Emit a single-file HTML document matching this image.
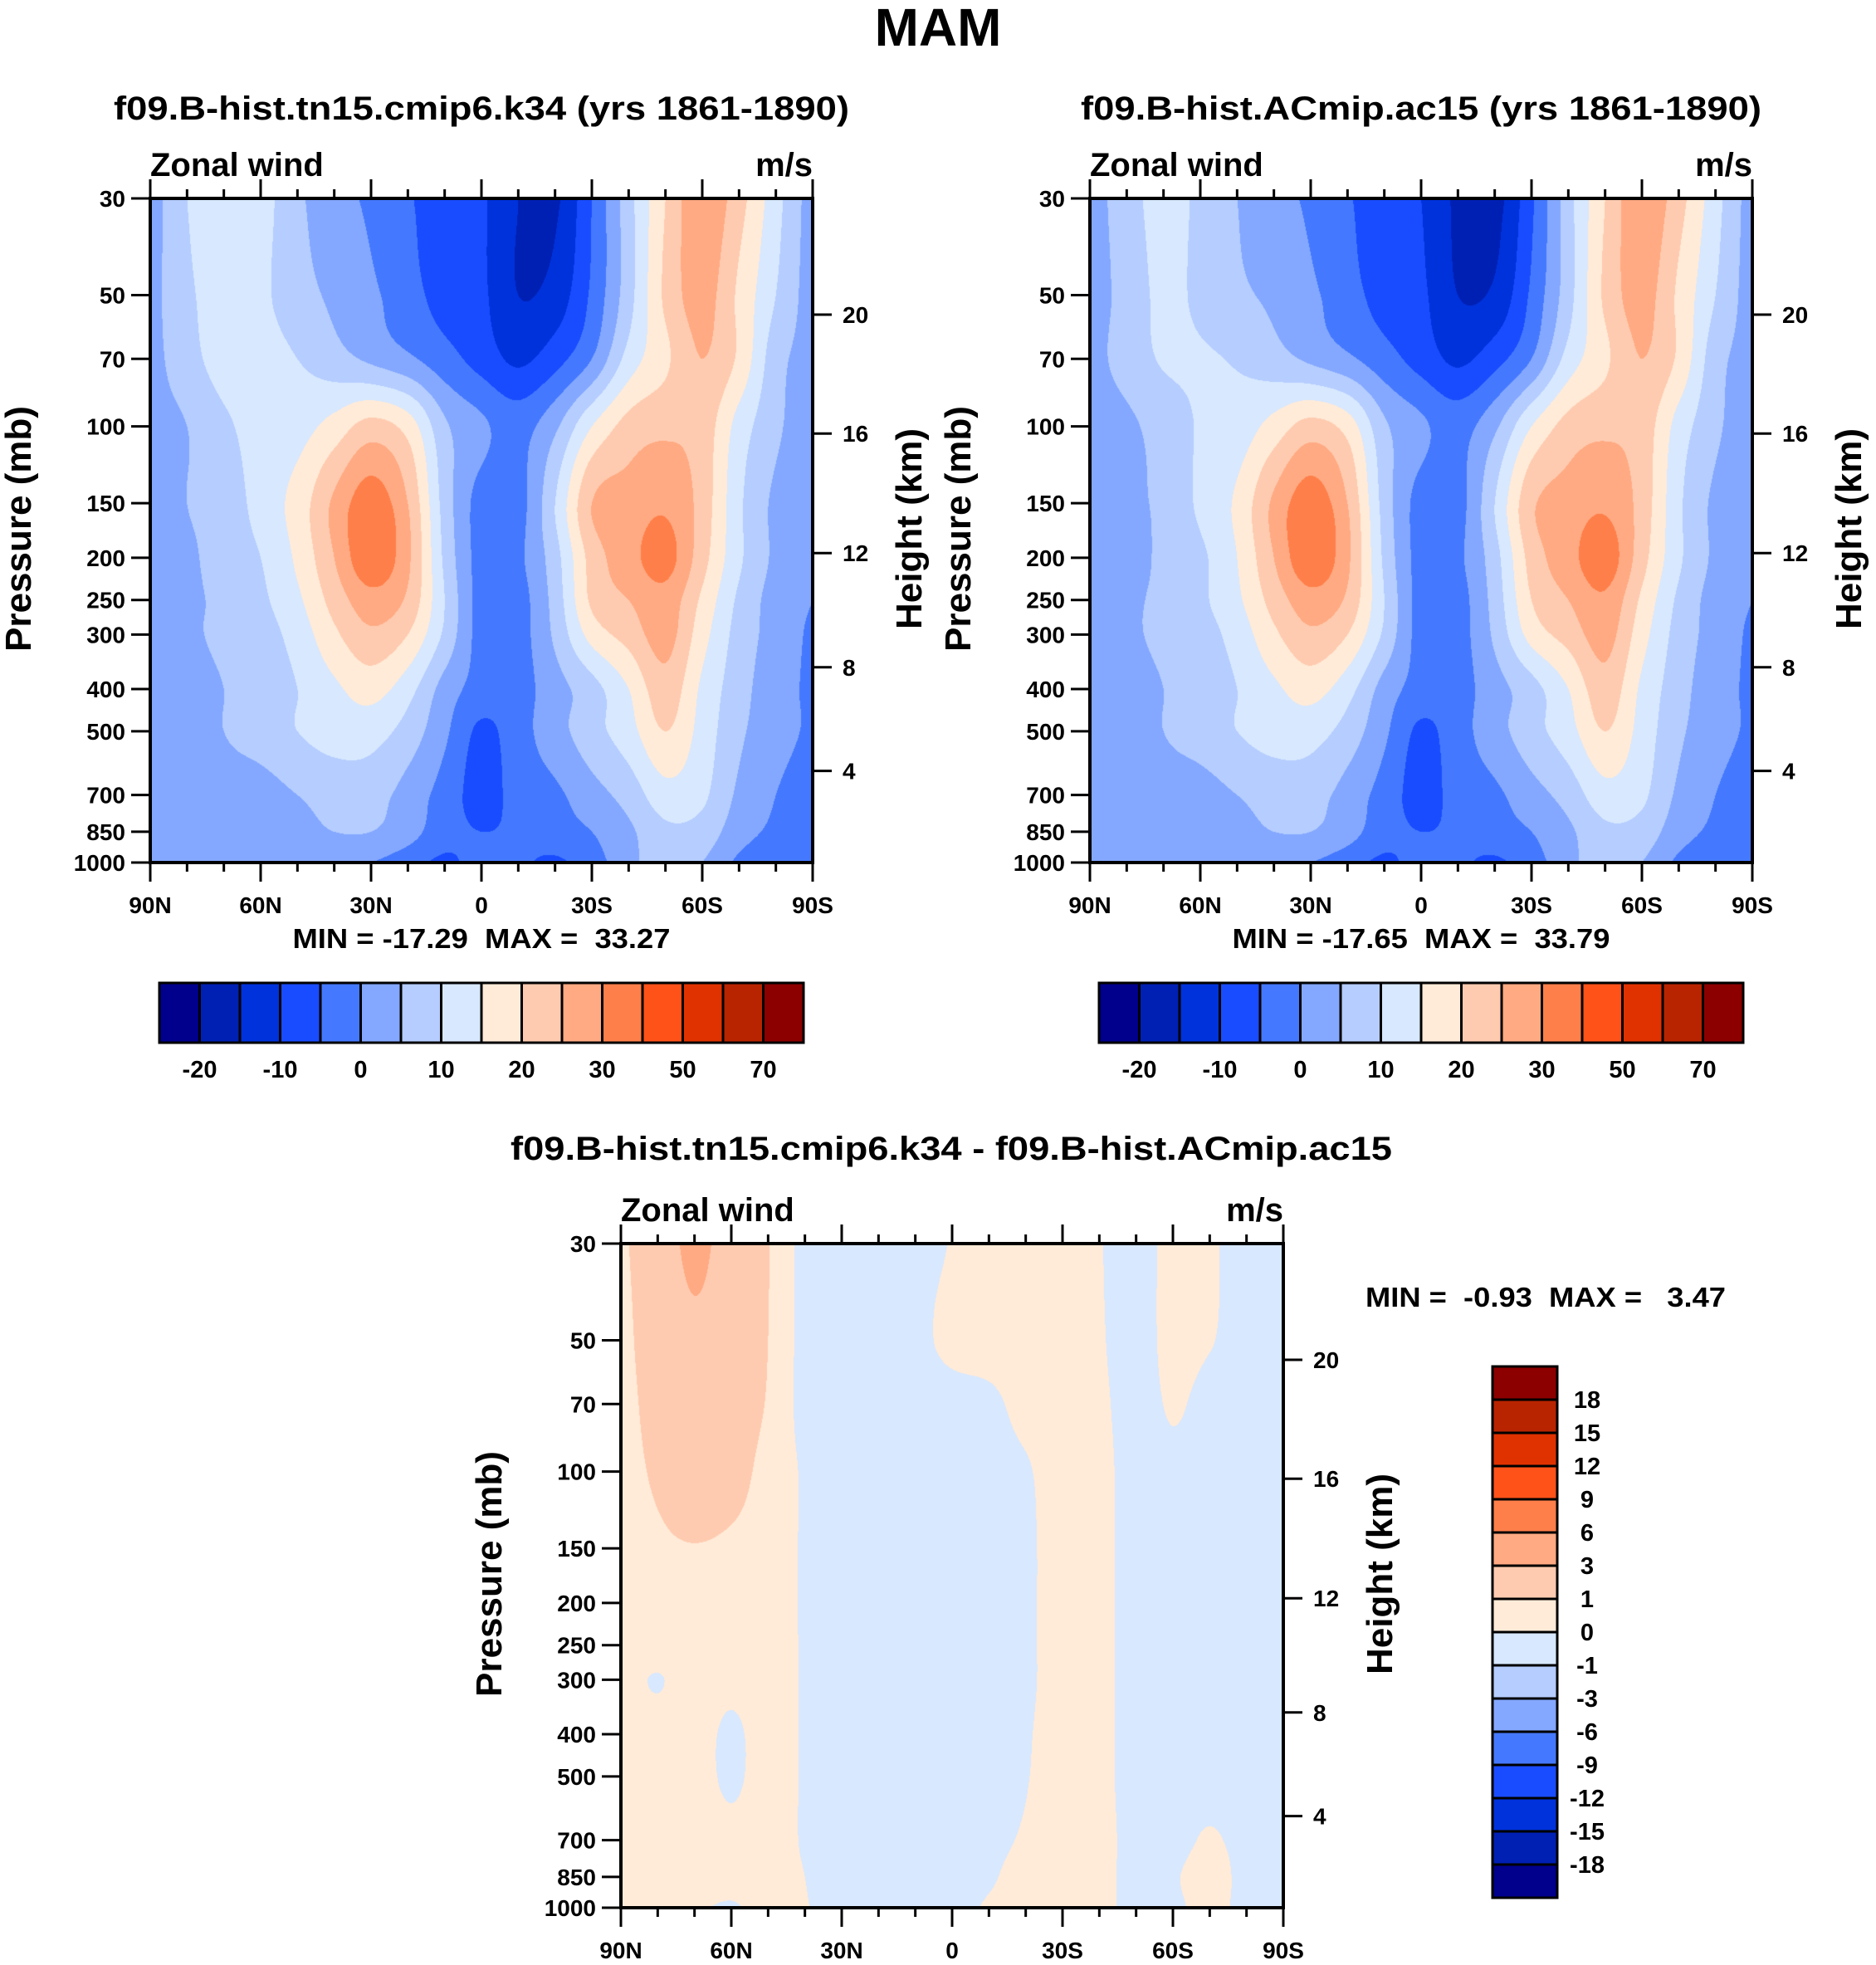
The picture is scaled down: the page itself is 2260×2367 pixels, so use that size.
<!DOCTYPE html>
<html><head><meta charset="utf-8">
<style>
html,body{margin:0;padding:0;background:#fff;}
#root{position:relative;width:2260px;height:2367px;overflow:hidden;background:#fff;}
canvas{position:absolute;}
svg{position:absolute;left:0;top:0;}
text{font-family:"Liberation Sans",sans-serif;font-weight:bold;fill:#000;white-space:pre;}
</style></head>
<body>
<div id="root">
<canvas id="c1" width="798" height="800" style="left:181px;top:239px"></canvas>
<canvas id="c2" width="798" height="800" style="left:1313px;top:239px"></canvas>
<canvas id="c3" width="798" height="800" style="left:748px;top:1498px"></canvas>
<svg id="ov" width="2260" height="2367"></svg>
</div>
<script>
// ---- data ----
const latitudes = [90,80,70,60,50,40,30,20,10,0,-10,-20,-30,-40,-50,-60,-70,-80,-90];
const pressureLevels = [30,50,70,100,150,200,250,300,400,500,700,850,1000];
const windLevels = [-20,-15,-10,-5,0,5,10,15,20,25,30,40,50,60,70];
const windLabels = ["-20","-10","0","10","20","30","50","70"];
const diffLevels = [-18,-15,-12,-9,-6,-3,-1,0,1,3,6,9,12,15,18];
const diffLabels = ["18","15","12","9","6","3","1","0","-1","-3","-6","-9","-12","-15","-18"];
const latTickLabels = ["90N","60N","30N","0","30S","60S","90S"];
const heightTickLabels = ["20","16","12","8","4"];
const palette = ["#00008c","#0020b4","#0032dc","#1a4cff","#4479ff","#84a8ff","#b5cdff","#d7e8ff","#ffebd8","#ffcbb0","#ffaa82","#ff7f4a","#ff5219","#e03200","#b82400","#8c0000"];

const panel1Wind = [
 [2,10,13,12,6,2,-1,-4.5,-7.5,-9.3,-15,-16,-5,8,20,29,22,12,2],
 [3,9,12,11,7,4,1,-3,-7,-9,-15,-13,-4,8,21,27,19,10,2],
 [3,8,12,12,10,7,4,1,-3,-7,-11,-7,0,12,19,25,19,7,3],
 [3,5,9,12,13,17,22,18,6,1,-2,4,15,22,24,23,13,6,2],
 [2,5,7,12,17,26,33,25,8,-2,-2,10,25,27,29,23,11,4,2],
 [1,4,7,10,16,25,34,26,9,-2,-1,8,22,28,32,22,11,4,1],
 [1,4,6,9,14,22,28,24,10,-2,-2,7,21,25,28,19,9,3,0],
 [1,4,6,8,12,19,24,20,9,-2,-2,6,17,22,27,17,8,3,-1],
 [1,3,5,7,10,14,17,12,3,-2,-2,3,8,15,23,14,7,2,-1],
 [1,3,5,7,10,12,12,8,1,-6,-2,3,8,13,20,13,6,2,-1],
 [2,2,3,3,5,7,7,3,-2,-7,-3,-1,3,7,13,11,4,0,-3],
 [2,2,2,2,3,5,5,2,-3,-5,-4,-2,0,4,9,8,2,-1,-3],
 [1,1,1,1,1,1,0,-3,-6,-3,-4,-6,-2,3,9,5,-1,-3,-4]
];
const panel2Wind = [
 [2,8,11.5,9,5,2,-1,-4.5,-8,-10,-16,-17,-6,8,20,29,22,12,2],
 [2,7,11,9,6,4,1,-3,-7,-9,-15,-14,-4,8,21,27,19,10,2],
 [3,7,10.5,10.5,9.5,7,4,1,-3,-7,-11,-7,0,12,19,25,19,7,3],
 [2,4,7,10.5,12,17,22,18,6,1,-2,4,15,22,24,23,13,6,2],
 [2,4,6,11,16,26,33,25,8,-2,-2,10,24,27,29,23,11,4,2],
 [1,3,6,9,15,25,34,26,9,-2,-1,8,22,28,33,22,11,4,1],
 [1,4,6,9,14,22,28,24,10,-2,-2,7,20,25,29,19,9,3,0],
 [1,4,6,8,12,19,24,20,9,-2,-2,6,17,22,27,17,8,3,-1],
 [1,3,5,7,10,14,17,12,3,-2,-2,3,8,15,23,14,7,2,-1],
 [1,3,5,7,10,12,12,8,1,-6,-2,3,8,13,20,13,6,2,-1],
 [2,2,3,3,5,7,7,3,-2,-7,-3,-1,3,7,13,11,4,0,-3],
 [1,2,2,2,3,5,5,2,-3,-5,-4,-2,0,4,9,8,2,-1,-3],
 [0,1,1,1,1,1,0,-3,-6,-3,-4,-6,-2,3,9,5,-1,-3,-4]
];
const diffWind = [
 [0.8,1.8,3.5,2.0,1.05,-0.3,-0.4,-0.4,-0.3,0.05,0.5,0.5,0.5,0.05,-0.4,0.3,0.1,-0.3,-0.3],
 [0.6,1.7,2.6,2.0,1.0,-0.3,-0.4,-0.4,-0.2,0.2,0.4,0.5,0.5,0.1,-0.4,0.3,0.05,-0.3,-0.3],
 [0.5,1.5,2.2,1.8,0.9,-0.3,-0.4,-0.4,-0.4,-0.3,-0.2,0.3,0.5,0.2,-0.4,0.1,-0.3,-0.4,-0.4],
 [0.5,1.2,1.8,1.5,0.6,-0.1,-0.4,-0.4,-0.4,-0.4,-0.3,-0.1,0.5,0.3,-0.4,-0.2,-0.3,-0.4,-0.4],
 [0.4,0.8,0.95,0.8,0.5,-0.1,-0.4,-0.4,-0.4,-0.4,-0.3,-0.2,0.5,0.3,-0.4,-0.3,-0.3,-0.4,-0.4],
 [0.4,0.6,0.6,0.6,0.5,-0.1,-0.4,-0.4,-0.4,-0.4,-0.3,-0.2,0.5,0.3,-0.4,-0.3,-0.3,-0.4,-0.4],
 [0.4,0.5,0.6,0.5,0.5,-0.1,-0.4,-0.4,-0.4,-0.4,-0.3,-0.2,0.5,0.3,-0.4,-0.3,-0.3,-0.4,-0.4],
 [0.4,-0.05,0.5,0.3,0.5,-0.1,-0.4,-0.4,-0.4,-0.4,-0.3,-0.2,0.5,0.3,-0.4,-0.3,-0.3,-0.4,-0.4],
 [0.4,0.4,0.5,-0.2,0.5,-0.1,-0.4,-0.4,-0.4,-0.4,-0.3,-0.1,0.5,0.3,-0.4,-0.3,-0.3,-0.4,-0.4],
 [0.4,0.4,0.5,-0.2,0.5,-0.1,-0.4,-0.4,-0.4,-0.4,-0.3,-0.05,0.5,0.3,-0.4,-0.3,-0.3,-0.4,-0.4],
 [0.4,0.4,0.5,0.3,0.5,-0.1,-0.4,-0.4,-0.4,-0.4,-0.2,0.1,0.5,0.3,-0.3,-0.3,0.1,-0.3,-0.4],
 [0.4,0.4,0.5,0.3,0.5,0.0,-0.4,-0.4,-0.4,-0.4,-0.1,0.3,0.5,0.3,-0.3,-0.1,0.4,-0.3,-0.4],
 [0.3,0.2,0.1,-0.1,0.3,0.05,-0.4,-0.4,-0.4,-0.3,0.1,0.3,0.5,0.3,-0.3,-0.2,0.3,-0.3,-0.4]
];

// ---- axes ----
const W = 798, H = 800;
const LP0 = Math.log10(30), LP1 = Math.log10(1000);
function yOfP(p){ return (Math.log10(p)-LP0)/(LP1-LP0)*H; }
function xOfLat(lat){ return (90-lat)/180*W; }
const logP = pressureLevels.map(p=>Math.log10(p));

function cubicWeights(coords, c){
  const n = coords.length;
  let j = 0; while(j < n-2 && c > coords[j+1]) j++;
  let t = (c-coords[j])/(coords[j+1]-coords[j]); t = Math.max(0,Math.min(1,t));
  const i0 = Math.max(0,j-1), i1 = j, i2 = j+1, i3 = Math.min(n-1,j+2);
  const seg = coords[i2]-coords[i1];
  const a = seg/(coords[i2]-coords[i0]);
  const b = seg/(coords[i3]-coords[i1]);
  const t2=t*t, t3=t2*t;
  const h00=2*t3-3*t2+1, h10=t3-2*t2+t, h01=-2*t3+3*t2, h11=t3-t2;
  return {idx:[i0,i1,i2,i3], w:[-h10*a, h00-h11*b, h10*a+h01, h11*b]};
}
const latCoord = latitudes.map(l=>90-l);
function hexRGB(h){ return [parseInt(h.slice(1,3),16),parseInt(h.slice(3,5),16),parseInt(h.slice(5,7),16)]; }
const palRGB = palette.map(hexRGB);
function drawField(canvasId, data, levels){
  const cv = document.getElementById(canvasId), ctx = cv.getContext('2d');
  const img = ctx.createImageData(W,H);
  const colW = [];
  for(let px=0; px<W; px++) colW.push(cubicWeights(latCoord, (px+0.5)/W*180));
  for(let py=0; py<H; py++){
    const rw = cubicWeights(logP, LP0 + (py+0.5)/H*(LP1-LP0));
    const rowVals = new Float64Array(latitudes.length);
    for(let i=0;i<latitudes.length;i++){
      let s=0; for(let k=0;k<4;k++) s += rw.w[k]*data[rw.idx[k]][i];
      rowVals[i]=s;
    }
    for(let px=0; px<W; px++){
      const cw = colW[px];
      let v=0; for(let k=0;k<4;k++) v += cw.w[k]*rowVals[cw.idx[k]];
      let c=0; while(c<levels.length && v>=levels[c]) c++;
      const col = palRGB[c], o = (py*W+px)*4;
      img.data[o]=col[0]; img.data[o+1]=col[1]; img.data[o+2]=col[2]; img.data[o+3]=255;
    }
  }
  ctx.putImageData(img,0,0);
}
drawField('c1', panel1Wind, windLevels);
drawField('c2', panel2Wind, windLevels);
drawField('c3', diffWind, diffLevels);

// ---- svg overlay ----
const NS = "http://www.w3.org/2000/svg";
const svg = document.getElementById('ov');
function mk(tag, attrs, parent){
  const e = document.createElementNS(NS, tag);
  for(const k in attrs) e.setAttribute(k, attrs[k]);
  (parent||svg).appendChild(e); return e;
}
function txt(s, x, y, size, anchor, parent, extra){
  const t = mk('text', Object.assign({x:x, y:y, 'font-size':size, 'text-anchor':anchor||'middle'}, extra||{}), parent);
  t.textContent = s; return t;
}
const heightFrac = [0.175,0.354,0.534,0.706,0.862];

function drawAxes(X0, Y0, name){
  const g = mk('g', {});
  
  
  for(let lat=90; lat>=-90; lat-=10){
    const x = X0 + xOfLat(lat), major = (lat%30===0);
    const len = major?23:11;
    mk('line',{x1:x,y1:Y0,x2:x,y2:Y0-len,stroke:'#000','stroke-width':3},g);
    mk('line',{x1:x,y1:Y0+H,x2:x,y2:Y0+H+len,stroke:'#000','stroke-width':3},g);
  }
  latTickLabels.forEach((s,i)=>{
    const t = txt(s, X0 + xOfLat(90-30*i), Y0+H+61, 28, 'middle', g);
    
    
  });
  pressureLevels.forEach(p=>{
    const y = Y0 + yOfP(p);
    mk('line',{x1:X0,y1:y,x2:X0-23,y2:y,stroke:'#000','stroke-width':3},g);
    const t = txt(String(p), X0-30, y+10, 28, 'end', g);
    
    
  });
  heightTickLabels.forEach((s,i)=>{
    const y = Y0 + heightFrac[i]*H;
    mk('line',{x1:X0+W,y1:y,x2:X0+W+23,y2:y,stroke:'#000','stroke-width':3},g);
    const t = txt(s, X0+W+36, y+10, 28, 'start', g);
    
    
  });
  mk('rect',{x:X0,y:Y0,width:W,height:H,fill:'none',stroke:'#000','stroke-width':4},g);
  const zw = txt('Zonal wind', X0, Y0-27, 40, 'start', g);
  
  
  const un = txt('m/s', X0+W, Y0-27, 40, 'end', g);
  
  
  const pl = txt('Pressure (mb)', 0, 0, 44, 'middle', g, {transform:`translate(${X0-144},${Y0+H/2-2}) rotate(-90)`});
  
  
  const hl = txt('Height (km)', 0, 0, 44, 'middle', g, {transform:`translate(${X0+W+131},${Y0+H/2-2}) rotate(-90)`});
  
  
}
drawAxes(181,239,'panel1');
drawAxes(1313,239,'panel2');
drawAxes(748,1498,'diff');

function hColorbar(X, Y, name){
  const g = mk('g',{});
  
  
  const sw = 48.5;
  palette.forEach((c,i)=>{
    const r = mk('rect',{x:X+i*sw,y:Y,width:sw,height:72,fill:c,stroke:'#000','stroke-width':3},g);
    
    
  });
  windLabels.forEach((s,i)=>{
    const t = txt(s, X+(1+2*i)*sw, Y+114, 29, 'middle', g);
    
    
  });
}
hColorbar(192,1184,'panel1-colorbar');
hColorbar(1324,1184,'panel2-colorbar');

(function(){
  const g = mk('g',{});
  
  
  const X=1798, Y=1646, sh=40;
  for(let i=0;i<16;i++){
    const r = mk('rect',{x:X,y:Y+i*sh,width:78,height:sh,fill:palette[15-i],stroke:'#000','stroke-width':3},g);
    
    
  }
  diffLabels.forEach((s,i)=>{
    const t = txt(s, 1912, Y+(i+1)*sh+10, 29, 'middle', g);
    
    
  });
})();

let t;
t = txt('MAM', 1130, 55, 64, 'middle');
 
t = txt('f09.B-hist.tn15.cmip6.k34 (yrs 1861-1890)', 580, 144, 40, 'middle', null, {textLength:886, lengthAdjust:'spacingAndGlyphs'});
 
t = txt('f09.B-hist.ACmip.ac15 (yrs 1861-1890)', 1712, 144, 40, 'middle', null, {textLength:820, lengthAdjust:'spacingAndGlyphs'});
 
t = txt('f09.B-hist.tn15.cmip6.k34 - f09.B-hist.ACmip.ac15', 1146, 1397, 40, 'middle', null, {textLength:1062, lengthAdjust:'spacingAndGlyphs'});
 
t = txt('MIN = -17.29  MAX =  33.27', 580, 1142, 33, 'middle', null, {textLength:455, lengthAdjust:'spacingAndGlyphs'});
 
t = txt('MIN = -17.65  MAX =  33.79', 1712, 1142, 33, 'middle', null, {textLength:455, lengthAdjust:'spacingAndGlyphs'});
 
t = txt('MIN =  -0.93  MAX =   3.47', 1862, 1574, 33, 'middle', null, {textLength:434, lengthAdjust:'spacingAndGlyphs'});
 
</script>
</body></html>
